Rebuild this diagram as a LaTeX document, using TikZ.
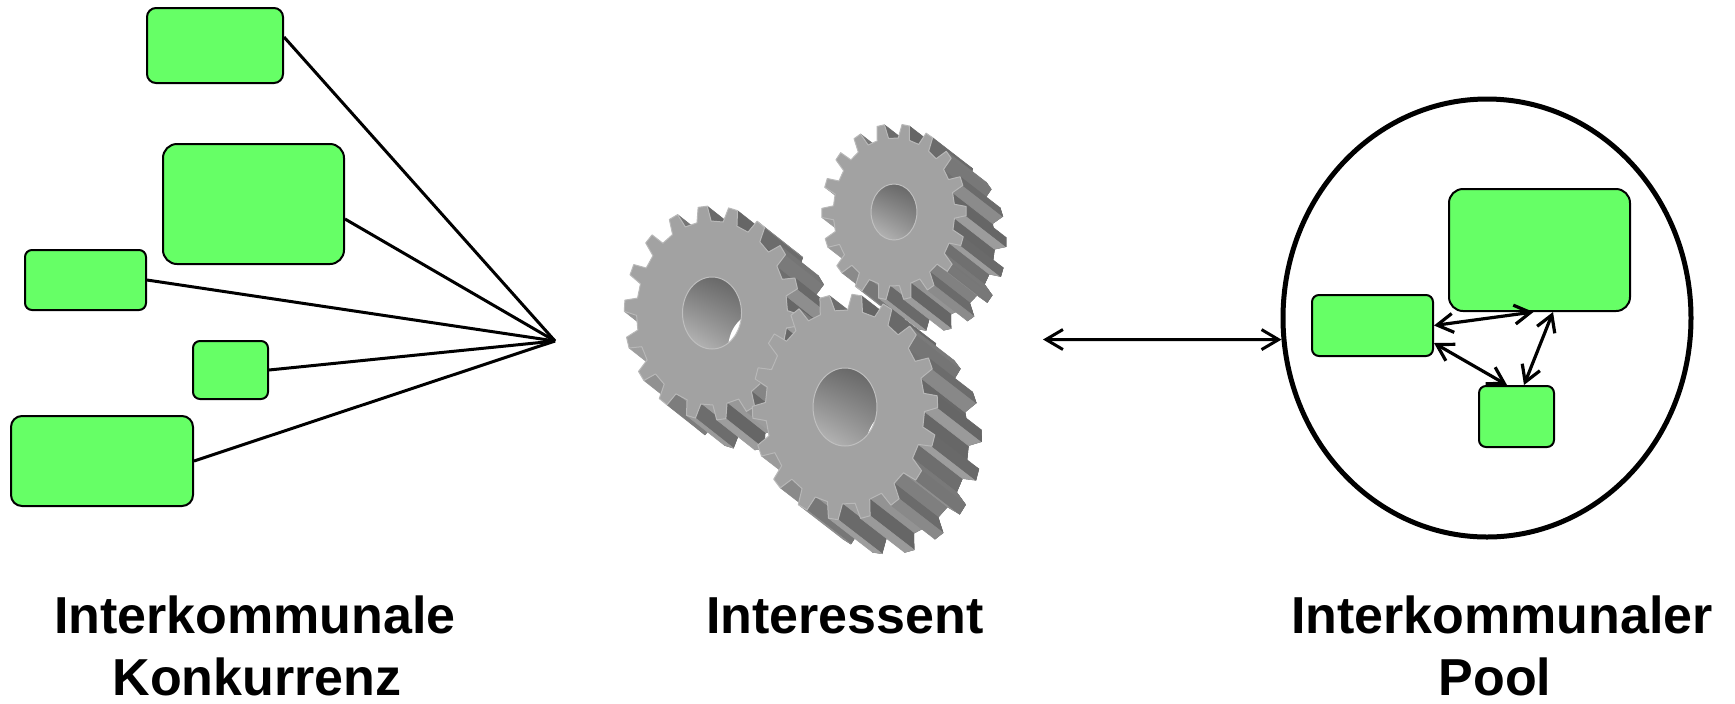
\documentclass[tikz,border=0pt]{standalone}
\usepackage{fontspec}
\setmainfont{Liberation Sans}
\usetikzlibrary{arrows.meta,calc,shapes.geometric,shadings}

\definecolor{boxgreen}{HTML}{66FF66}
\definecolor{gearface}{HTML}{A2A2A2}
\definecolor{gearback}{HTML}{6A6A6A}

% horizontal squash of the gear faces
\def\gs{0.82}

\tikzset{
  gbox/.style={draw=black, line width=1pt, fill=boxgreen, inner sep=0pt},
  spoke/.style={line width=1.5pt},
  link/.style={line width=1.6pt,
    {Straight Barb[length=8pt,width=9.5pt]}-{Straight Barb[length=8pt,width=9.5pt]}},
  biglink/.style={line width=1.5pt,
    {Straight Barb[length=8.5pt,width=10pt]}-{Straight Barb[length=8.5pt,width=10pt]}},
  caption/.style={font=\fontsize{26}{32}\selectfont\bfseries, inner sep=0pt, anchor=base},
  % outline of an 18-tooth gear, shifted by (#1,#2)
  gearpath/.style 2 args={insert path={
    ({#1+\gs*\gr*cos(\gbase-0.27*\gp)},{#2+\gr*sin(\gbase-0.27*\gp)})
    \foreach \j in {0,...,17}{
      -- ({#1+\gs*\gr*cos(\gbase+\j*\gp-0.27*\gp)},{#2+\gr*sin(\gbase+\j*\gp-0.27*\gp)})
      -- ({#1+\gs*\gR*cos(\gbase+\j*\gp-0.15*\gp)},{#2+\gR*sin(\gbase+\j*\gp-0.15*\gp)})
      -- ({#1+\gs*\gR*cos(\gbase+\j*\gp+0.15*\gp)},{#2+\gR*sin(\gbase+\j*\gp+0.15*\gp)})
      -- ({#1+\gs*\gr*cos(\gbase+\j*\gp+0.27*\gp)},{#2+\gr*sin(\gbase+\j*\gp+0.27*\gp)})
    } -- cycle}},
}

% one side face of the extruded gear, between polar points (#1:#2) and (#3:#4)
\newcommand{\gearside}[4]{%
  \pgfmathsetmacro\gAx{\gs*#2*cos(#1)}%
  \pgfmathsetmacro\gAy{#2*sin(#1)}%
  \pgfmathsetmacro\gBx{\gs*#4*cos(#3)}%
  \pgfmathsetmacro\gBy{#4*sin(#3)}%
  \pgfmathsetmacro\gVis{(\gBy-\gAy)*\gdx+(\gBx-\gAx)*\gdy}%
  \pgfmathsetmacro\gShd{60-22*((\gBx-\gAx)^2/((\gBx-\gAx)^2+(\gBy-\gAy)^2))}%
  \ifdim\gVis pt>0pt
    \fill[black!\gShd, draw=black!\gShd, line width=0.3pt, line join=round]
      (\gAx,\gAy) -- (\gBx,\gBy) -- ({\gBx+\gdx},{\gBy-\gdy}) -- ({\gAx+\gdx},{\gAy-\gdy}) -- cycle;
  \fi}

% #1 cx, #2 cy, #3 tip radius, #4 root radius, #5 hole radius, #6 dx, #7 dy, #8 phase
\newcommand{\gearwheel}[8]{%
  \begin{scope}[shift={(#1,#2)}, yscale=-1]
    \def\gR{#3}\def\gr{#4}\def\gh{#5}\def\gdx{#6}\def\gdy{#7}
    \def\gp{20}
    \pgfmathsetmacro\gbase{atan2(-#7,\gs*#6)+180+#8}
    % back face
    \fill[gearback, draw=gearback, line width=0.3pt] [gearpath={\gdx}{-\gdy}];
    % tooth roots first, then flanks and tips, far teeth before near ones
    \foreach \k in {0,...,9}{
      \foreach \sg in {-1,1}{
        \pgfmathsetmacro\ga{\gbase+\sg*\k*\gp}
        \gearside{\ga+0.27*\gp}{\gr}{\ga+0.73*\gp}{\gr}
      }}
    \foreach \k in {0,...,9}{
      \foreach \sg in {-1,1}{
        \pgfmathsetmacro\ga{\gbase+\sg*\k*\gp}
        \gearside{\ga-0.27*\gp}{\gr}{\ga-0.15*\gp}{\gR}
        \gearside{\ga+0.15*\gp}{\gR}{\ga+0.27*\gp}{\gr}
        \gearside{\ga-0.15*\gp}{\gR}{\ga+0.15*\gp}{\gR}
      }}
    % front face
    \fill[gearface, draw=black!28, line width=0.5pt, line join=round] [gearpath={0}{0}];
    % bore
    \shade[upper left=black!55, upper right=black!62, lower left=black!25, lower right=black!40]
      (0,0) ellipse [x radius={\gs*\gh}, y radius={\gh}];
    \begin{scope}
      \clip (0,0) ellipse [x radius={\gs*\gh}, y radius={\gh}];
      \fill[white] ({1.2*\gdx},{-1.2*\gdy}) ellipse [x radius={\gs*\gh}, y radius={\gh}];
    \end{scope}
    \draw[black!25, line width=0.5pt] (0,0) ellipse [x radius={\gs*\gh}, y radius={\gh}];
  \end{scope}}

\begin{document}
\begin{tikzpicture}[x=0.5pt, y=-0.5pt]
  \useasboundingbox (0,0) rectangle (1735,703);

  % competing municipalities
  \node[gbox, minimum width=68pt,   minimum height=37.5pt, rounded corners=4.5pt] (b1) at (215,45.5) {};
  \node[gbox, minimum width=90.5pt, minimum height=60pt,   rounded corners=7pt]   (b2) at (253.5,204) {};
  \node[gbox, minimum width=60.5pt, minimum height=30pt,   rounded corners=3.5pt] (b3) at (85.5,280) {};
  \node[gbox, minimum width=37.5pt, minimum height=29pt,   rounded corners=3.5pt] (b4) at (230.5,370) {};
  \node[gbox, minimum width=91pt,   minimum height=45pt,   rounded corners=5.5pt] (b5) at (102,461) {};
  \coordinate (hub) at (555,341);
  \draw[spoke] (hub) -- ($(b1.east)+(0,-8.5)$);
  \draw[spoke] (hub) -- ($(b2.east)+(0,15)$);
  \draw[spoke] (hub) -- (b3.east);
  \draw[spoke] (hub) -- (b4.east);
  \draw[spoke] (hub) -- (b5.east);

  % interested party: three gears
  \gearwheel{894}{212}{88}{74}{28}{40}{31}{4}
  \gearwheel{712}{313}{107}{92}{36}{38}{30}{0}
  \gearwheel{845}{407}{113}{97}{39}{44}{34}{6}

  % municipal pool
  \node[ellipse, draw=black, line width=2.5pt, inner sep=0pt,
        minimum width=204pt, minimum height=219pt] (pool) at (1487,318) {};
  \node[gbox, minimum width=90.5pt, minimum height=61pt,   rounded corners=7pt]   (pbig)   at (1539.5,250) {};
  \node[gbox, minimum width=60.5pt, minimum height=30.5pt, rounded corners=3.5pt] (pleft)  at (1372.5,325.5) {};
  \node[gbox, minimum width=37.5pt, minimum height=30.5pt, rounded corners=3.5pt] (psmall) at (1516.5,416.5) {};
  \draw[link] (pleft.east) -- ($(pbig.south)+(-6,0)$);
  \draw[link] ($(pleft.east)+(0,17.5)$) -- ($(psmall.north)+(-9.5,0)$);
  \draw[link] ($(pbig.south)+(13.5,0)$) -- ($(psmall.north)+(7.5,0)$);

  \coordinate (gearsout) at (1043,339.5);
  \draw[biglink] (gearsout) -- (pool.186);

  % captions
  \node[caption] (kon1)  at (255,633)  {Interkommunale};
  \node[caption] (kon2)  at (257,695)  {Konkurrenz};
  \node[caption] (int)   at (845,633)  {Interessent};
  \node[caption] (pool1) at (1502,633) {Interkommunaler};
  \node[caption] (pool2) at (1495,695) {Pool};
\end{tikzpicture}
\end{document}
